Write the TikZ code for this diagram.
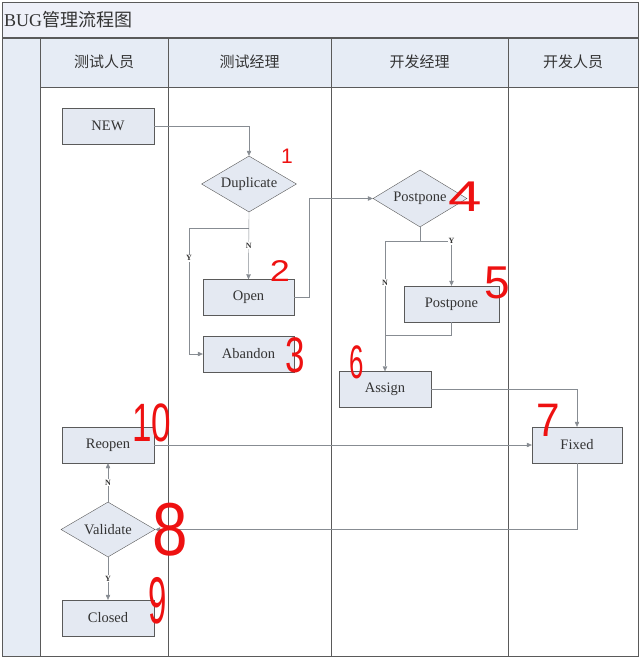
\documentclass[tikz,border=0pt]{standalone}
\usepackage{fontspec}
\setmainfont{Liberation Serif}
\newfontfamily\cjk{Noto Sans CJK SC}
\newfontfamily\hand{Liberation Sans}
\usetikzlibrary{arrows.meta,positioning,shapes.geometric}
\definecolor{frame}{HTML}{5A5A5A}
\definecolor{wire}{HTML}{878C92}
\definecolor{boxfill}{HTML}{E4E9F2}
\definecolor{lane}{HTML}{E6ECF5}
\definecolor{titlebg}{HTML}{EEF0F8}
\definecolor{ink}{HTML}{333333}
\definecolor{note}{HTML}{EE1111}

\begin{document}
\begin{tikzpicture}[x=1pt,y=-1pt,
  stepbox/.style={draw=frame,fill=boxfill,text=ink,minimum width=92pt,minimum height=36pt,inner sep=0pt,font=\fontsize{14.5}{15}\selectfont},
  choice/.style={diamond,aspect=1.7,draw=frame,fill=boxfill,text=ink,minimum width=95pt,minimum height=56pt,inner sep=0pt,font=\fontsize{14.5}{15}\selectfont},
  flow/.style={wire,-{Triangle[length=5pt,width=4.5pt]}},
  yn/.style={fill=white,text=ink,inner sep=1pt,font=\fontsize{8}{8}\selectfont\bfseries}]
  \useasboundingbox (0,0) rectangle (641,658);
  \fill[white] (0,0) rectangle (641,658);

  % lanes
  \fill[titlebg] (2,2) rectangle (638,38);
  \fill[lane] (2,38) rectangle (638,87);
  \fill[lane] (2,87) rectangle (40,656);
  \draw[frame] (2,2) rectangle (638,656);
  \draw[frame,line width=1.2pt] (2,38) -- (638,38);
  \draw[frame] (40,87) -- (638,87);
  \foreach \x in {40,168,331,508} {
    \draw[frame] (\x,38) -- (\x,656);
  }

  \node[anchor=west,text=ink,inner sep=0pt,font=\fontsize{18}{18}\selectfont] (title) at (4,20) {BUG{\cjk 管理流程图}};
  \node[text=ink,font=\cjk\fontsize{15}{15}\selectfont] (tester) at (104,62) {测试人员};
  \node[text=ink,font=\cjk\fontsize{15}{15}\selectfont] (testlead) at (249.5,62) {测试经理};
  \node[text=ink,font=\cjk\fontsize{15}{15}\selectfont] (devlead) at (419.5,62) {开发经理};
  \node[text=ink,font=\cjk\fontsize{15}{15}\selectfont] (dev) at (573,62) {开发人员};

  % states
  \node[stepbox] (new) at (108,126) {NEW};
  \node[choice] (dup) at (249,184) {Duplicate};
  \node[stepbox,minimum width=91pt] (open) at (248.5,297.5) {Open};
  \node[stepbox,minimum width=91pt] (abandon) at (248.5,354) {Abandon};
  \node[choice,minimum width=94pt,minimum height=57pt] (ppq) at (420,198.5) {Postpone};
  \node[stepbox,minimum width=95pt] (ppbox) at (451.5,304) {Postpone};
  \node[stepbox] (assign) at (385,389.5) {Assign};
  \node[stepbox,minimum width=90pt] (fixed) at (577,445) {Fixed};
  \node[stepbox] (reopen) at (108,445) {Reopen};
  \node[choice,minimum width=94pt,minimum height=55pt] (check) at (108,529.5) {Validate};
  \node[stepbox] (closed) at (108,618) {Closed};

  \coordinate (ybend) at (189,228);
  \coordinate (ppsplit) at (420,241);
  \coordinate (ppjoin) at (385,335);

  % flow
  \draw[flow] (new.east) -| (dup.north);
  \draw[flow] (dup.south) -- node[yn]{N} (open.north);
  \draw[wire] (dup.south |- ybend) -- (ybend);
  \draw[flow] (ybend) -- node[yn,pos=0.24]{Y} (ybend |- abandon.west) -- (abandon.west);
  \draw[flow] (open.east) -- ++(15,0) |- (ppq.west);
  \draw[wire] (ppq.south) -- (ppsplit);
  \draw[flow] (ppsplit) -| node[yn,pos=0.5]{Y} (ppbox.north);
  \draw[flow] (ppsplit) -| node[yn,pos=0.66]{N} (assign.north);
  \draw[wire] (ppbox.south) |- (ppjoin);
  \draw[flow] (assign.east) -| (fixed.north);
  \draw[flow] (reopen.east) -- (fixed.west);
  \draw[flow] (fixed.south) |- (check.east);
  \draw[flow] (check.north) -- node[yn]{N} (reopen.south);
  \draw[flow] (check.south) -- node[yn]{Y} (closed.north);

  % red marks
  \foreach \n/\x/\y/\s/\w in {1/287/156/21/1, 2/280/271/30/1.2, 3/295/355/50/0.7,
                              4/465/197/43/1.4, 5/497/283/46/1, 6/357/362/47/0.55,
                              7/548/420/47/0.9, 8/170/530/75/0.85, 9/158/601/66/0.5,
                              10/152/423/54/0.65} {
    \node[note,xscale=\w,inner sep=0pt,font=\hand\fontsize{\s}{\s}\selectfont] (mark\n) at (\x,\y) {\n};
  }
\end{tikzpicture}
\end{document}
